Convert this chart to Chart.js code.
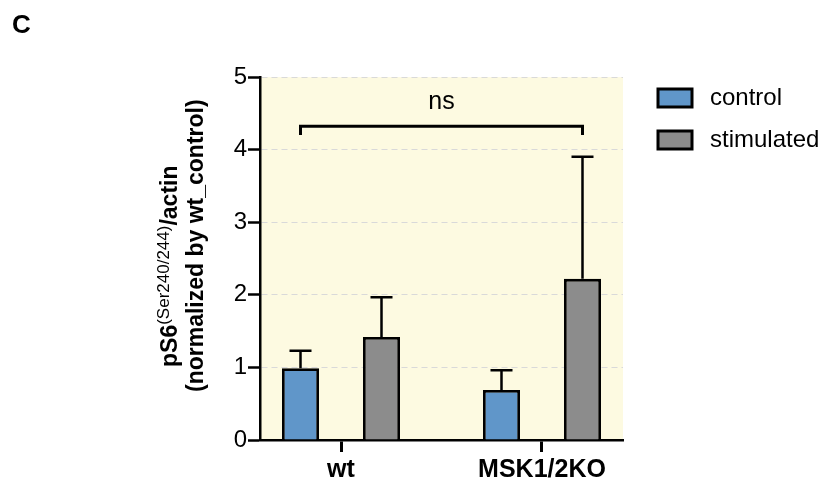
<!DOCTYPE html>
<html>
<head>
<meta charset="utf-8">
<script src="https://cdn.jsdelivr.net/npm/chart.js@4"></script>
<style>
  html, body { margin: 0; padding: 0; background: #fff; }
  #wrap { width: 823px; height: 483px; }
</style>
</head>
<body>
<div id="wrap"><canvas id="grafico" width="823" height="483"></canvas></div>
<script>
// datos
const grupos = ['wt', 'MSK1/2KO'];
const series = ['control', 'stimulated'];
const valoresControl = [0.99, 0.69];
const valoresEstimulado = [1.42, 2.22];
const errorControl = [0.24, 0.27];
const errorEstimulado = [0.545, 1.68];
const ticksY = [0, 1, 2, 3, 4, 5];
const textoSig = 'ns';
const alturaSig = 4.32;

const FUENTE = '"Liberation Sans", Arial, Helvetica, sans-serif';
const colores = ['#6096c9', '#8c8c8c'];

// fondo amarillo del area del grafico
const fondo = {
    id: 'fondo',
    beforeDraw(chart) {
        const { ctx, chartArea: a } = chart;
        ctx.save();
        ctx.fillStyle = '#fdfae1';
        ctx.fillRect(a.left, a.top, a.right - a.left, a.bottom - a.top);
        ctx.restore();
    }
};

// barras de error (solo hacia arriba)
const barrasError = {
    id: 'barrasError',
    afterDatasetsDraw(chart) {
        const { ctx } = chart;
        const y = chart.scales.y;
        ctx.save();
        ctx.strokeStyle = '#000';
        ctx.lineWidth = 2.5;
        chart.data.datasets.forEach((ds, i) => {
            const meta = chart.getDatasetMeta(i);
            meta.data.forEach((bar, j) => {
                const top = y.getPixelForValue(ds.data[j].y + ds.errores[j]);
                ctx.beginPath();
                ctx.moveTo(bar.x, bar.y);
                ctx.lineTo(bar.x, top);
                ctx.moveTo(bar.x - 11, top);
                ctx.lineTo(bar.x + 11, top);
                ctx.stroke();
            });
        });
        ctx.restore();
    }
};

// corchete de significancia, titulo del eje y, leyenda y letra del panel
const extras = {
    id: 'extras',
    afterDraw(chart) {
        const { ctx } = chart;
        const y = chart.scales.y;
        const b0 = chart.getDatasetMeta(0).data[0];
        const b1 = chart.getDatasetMeta(1).data[1];
        const yb = y.getPixelForValue(alturaSig);
        const yPie = y.getPixelForValue(alturaSig - 0.12);
        ctx.save();
        ctx.strokeStyle = '#000';
        ctx.lineWidth = 3;
        ctx.beginPath();
        ctx.moveTo(b0.x, yPie);
        ctx.lineTo(b0.x, yb);
        ctx.lineTo(b1.x, yb);
        ctx.lineTo(b1.x, yPie);
        ctx.stroke();
        ctx.fillStyle = '#000';
        ctx.font = '25px ' + FUENTE;
        ctx.textAlign = 'center';
        ctx.textBaseline = 'alphabetic';
        ctx.fillText(textoSig, (b0.x + b1.x) / 2, yb - 17);

        // letra del panel
        ctx.textAlign = 'left';
        ctx.font = 'bold 26px ' + FUENTE;
        ctx.fillText('C', 12, 33);

        // titulo eje y (rotado, con superindice)
        ctx.save();
        ctx.translate(177, 367);
        ctx.rotate(-Math.PI / 2);
        ctx.textAlign = 'left';
        let x = 0;
        ctx.font = 'bold 23px ' + FUENTE;
        ctx.fillText('pS6', x, 0);
        x += ctx.measureText('pS6').width;
        ctx.font = '17px ' + FUENTE;
        ctx.fillText('(Ser240/244)', x, -8);
        x += ctx.measureText('(Ser240/244)').width;
        ctx.font = 'bold 23px ' + FUENTE;
        ctx.fillText('/actin', x, 0);
        ctx.restore();
        ctx.save();
        ctx.translate(203, 392);
        ctx.rotate(-Math.PI / 2);
        ctx.textAlign = 'left';
        ctx.font = 'bold 23px ' + FUENTE;
        ctx.fillText('(normalized by wt_control)', 0, 0);
        ctx.restore();

        // leyenda
        chart.data.datasets.forEach((ds, i) => {
            const cy = 98 + i * 42;
            ctx.fillStyle = ds.backgroundColor;
            ctx.fillRect(658, cy - 9, 34, 18);
            ctx.lineWidth = 3;
            ctx.strokeStyle = '#000';
            ctx.strokeRect(658, cy - 9, 34, 18);
            ctx.fillStyle = '#000';
            ctx.font = '24px ' + FUENTE;
            ctx.textAlign = 'left';
            ctx.textBaseline = 'middle';
            ctx.fillText(ds.label, 710, cy);
        });
        ctx.restore();
    }
};

const datos = {
    datasets: [
        {
            label: series[0],
            data: valoresControl.map((v, i) => ({ x: i, y: v })),
            errores: errorControl,
            backgroundColor: colores[0]
        },
        {
            label: series[1],
            data: valoresEstimulado.map((v, i) => ({ x: i, y: v })),
            errores: errorEstimulado,
            backgroundColor: colores[1]
        }
    ]
};

new Chart(document.getElementById('grafico').getContext('2d'), {
    type: 'bar',
    data: datos,
    options: {
        responsive: false,
        animation: false,
        devicePixelRatio: 1,
        categoryPercentage: 0.806,
        barPercentage: 0.457,
        datasets: {
            bar: { borderColor: '#000', borderWidth: 2.8, borderSkipped: 'start' }
        },
        layout: { padding: { left: 0, right: 200, top: 77, bottom: 0 } },
        plugins: {
            legend: { display: false },
            tooltip: { enabled: false }
        },
        scales: {
            x: {
                type: 'linear',
                min: -0.403,
                max: 1.403,
                offset: false,
                z: 1,
                afterFit: (s) => { s.height = 43; },
                afterBuildTicks: (s) => { s.ticks = grupos.map((g, i) => ({ value: i })); },
                grid: { offset: false, drawOnChartArea: false, tickLength: 12, tickColor: '#000', tickWidth: 3 },
                border: { color: '#000', width: 2.5 },
                ticks: {
                    padding: 3,
                    color: '#000',
                    font: { family: FUENTE, size: 25, weight: 'bold' },
                    callback: (v) => grupos[v] ?? ''
                }
            },
            y: {
                min: 0,
                max: 5,
                afterFit: (s) => { s.width = 260; },
                afterBuildTicks: (s) => { s.ticks = ticksY.map(v => ({ value: v })); },
                grid: {
                    color: '#d9d9d9',
                    lineWidth: 1,
                    tickLength: 12,
                    tickColor: '#000',
                    tickWidth: 2.5,
                    tickBorderDash: []
                },
                border: { color: '#000', width: 2.5, dash: [6, 4] },
                ticks: {
                    padding: 1,
                    color: '#000',
                    font: { family: FUENTE, size: 24 }
                }
            }
        }
    },
    plugins: [fondo, barrasError, extras]
});
</script>
</body>
</html>
